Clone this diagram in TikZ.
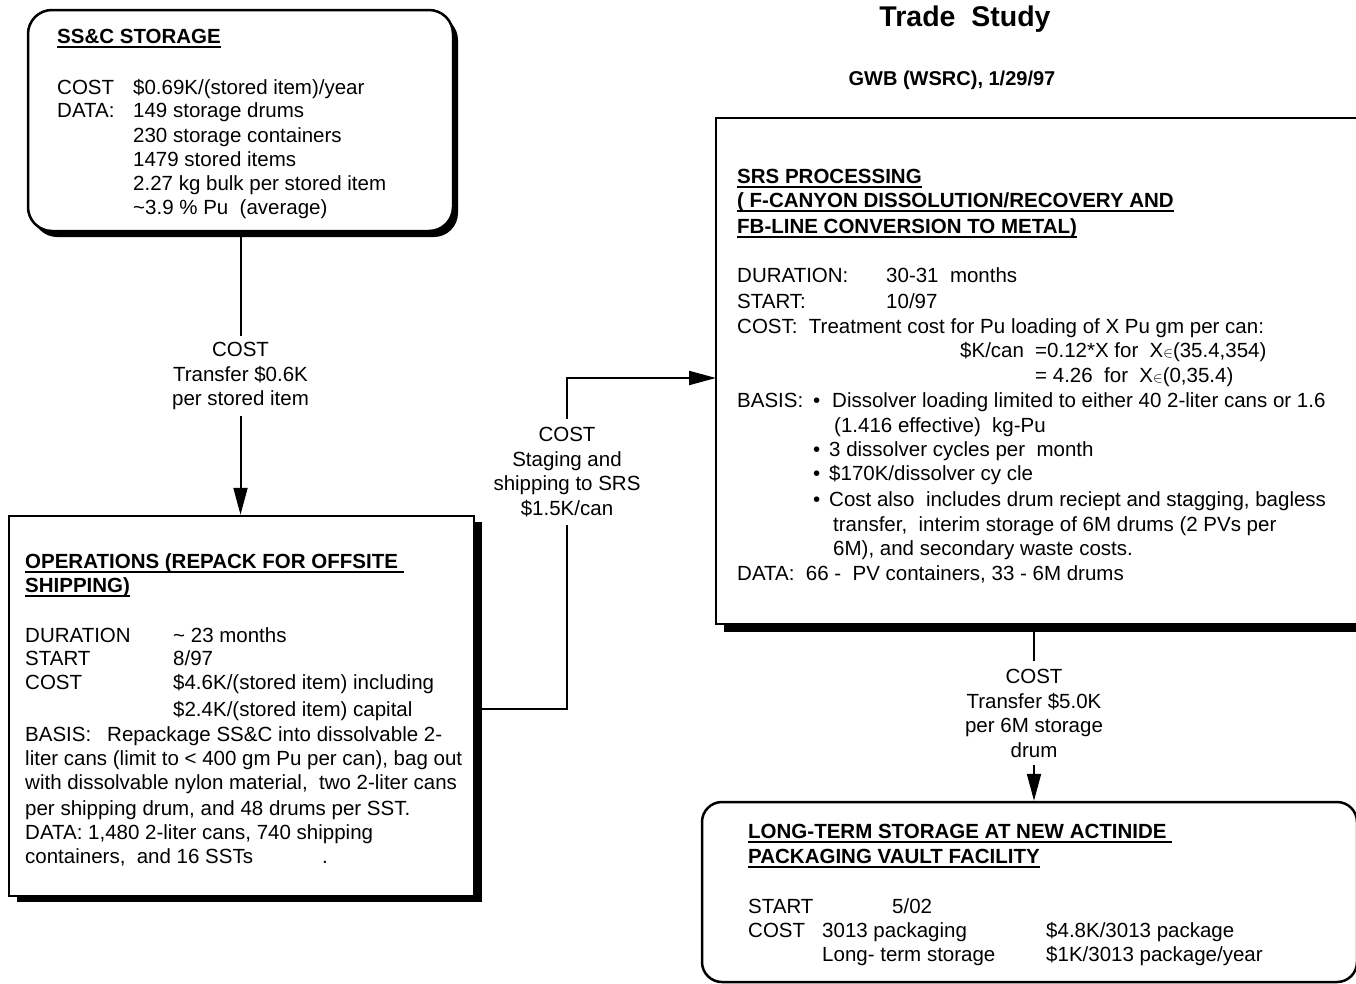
\documentclass[tikz,border=0pt]{standalone}
\usepackage{fontspec}
\setmainfont{Liberation Sans}
\usetikzlibrary{arrows.meta,shadows}
% underlined heading with a fixed rule under the baseline
\newcommand{\hdul}[1]{\setbox0\hbox{#1}\rlap{\rule[-4.5pt]{\wd0}{1.8pt}}\box0}
% small element-of sign used in the cost formula
\newcommand{\elem}{{\fontsize{15}{15}\selectfont$\in$}}
\tikzset{
  every node/.style={font=\fontsize{20.5}{24.5}\selectfont},
  boxline/.style={draw=black, line width=2.5pt, fill=white, inner sep=0pt},
  conn/.style={line width=2pt},
  arr/.style={conn, -{Triangle[length=27pt,width=14pt]}},
  txt/.style={anchor=base west, inner sep=0pt},
  lbl/.style={align=center, inner xsep=0pt, anchor=north},
}
\begin{document}
\begin{tikzpicture}[x=1pt,y=-1pt]
\useasboundingbox[fill=white] (0,0) rectangle (1356,983);

% ---- boxes ----
\node[boxline, rounded corners=24pt, minimum width=425pt, minimum height=221pt,
      drop shadow={shadow xshift=5pt,shadow yshift=-6pt,fill=black,opacity=1}]
      (ssc) at (240.5,120.5) {};
\node[boxline, minimum width=465pt, minimum height=380pt,
      drop shadow={shadow xshift=8pt,shadow yshift=-6pt,fill=black,opacity=1}]
      (ops) at (241.5,706) {};
\node[boxline, minimum width=641pt, minimum height=506pt,
      drop shadow={shadow xshift=8pt,shadow yshift=-8pt,fill=black,opacity=1}]
      (srs) at (1036.5,371) {};
\node[boxline, rounded corners=20pt, minimum width=655pt, minimum height=180pt]
      (lts) at (1029.5,892) {};

% ---- title ----
\node[anchor=base, inner sep=0pt, font=\fontsize{28.5}{32}\selectfont\bfseries] (title) at (965,26) {Trade\ \ Study};
\node[anchor=base, inner sep=0pt, font=\fontsize{20}{23}\selectfont\bfseries] (author) at (952,85) {GWB (WSRC), 1/29/97};

% ---- SS&C storage ----
\node[txt] (h1) at (57,43) {\bfseries\hdul{SS\&C STORAGE}};
\node[txt] (c1a) at (57,94) {COST};
\node[txt] (c1b) at (133,94) {\$0.69K/(stored item)/year};
\node[txt] (d1a) at (57,117) {DATA:};
\node[txt] (d1b) at (133,117) {149 storage drums};
\node[txt] (d1c) at (133,142) {230 storage containers};
\node[txt] (d1d) at (133,166) {1479 stored items};
\node[txt] (d1e) at (133,190) {2.27 kg bulk per stored item};
\node[txt] (d1f) at (133,214) {\textasciitilde3.9 \% Pu\ \ (average)};

% ---- operations ----
\node[txt] (h2a) at (25,568) {\bfseries\hdul{OPERATIONS (REPACK FOR OFFSITE\ }};
\node[txt] (h2b) at (25,592) {\bfseries\hdul{SHIPPING)}};
\node[txt] (o1a) at (25,642) {DURATION};
\node[txt] (o1b) at (173,642) {\textasciitilde\ 23 months};
\node[txt] (o2a) at (25,665) {START};
\node[txt] (o2b) at (173,665) {8/97};
\node[txt] (o3a) at (25,689) {COST};
\node[txt] (o3b) at (173,689) {\$4.6K/(stored item) including};
\node[txt] (o3c) at (173,716) {\$2.4K/(stored item) capital};
\node[txt] (o4a) at (25,741) {BASIS:};
\node[txt] (o4b) at (107,741) {Repackage SS\&C into dissolvable 2-};
\node[txt] (o5) at (25,765) {liter cans (limit to < 400 gm Pu per can), bag out};
\node[txt] (o6) at (25,789) {with dissolvable nylon material,\ \ two 2-liter cans};
\node[txt] (o7) at (25,815) {per shipping drum, and 48 drums per SST.};
\node[txt] (o8) at (25,839) {DATA: 1,480 2-liter cans, 740 shipping};
\node[txt] (o9a) at (25,863) {containers,\ \ and 16 SSTs};
\node[txt] (o9b) at (322,863) {.};

% ---- SRS processing ----
\node[txt] (h3a) at (737,183) {\bfseries\hdul{SRS PROCESSING}};
\node[txt] (h3b) at (737,207) {\bfseries\hdul{( F-CANYON DISSOLUTION/RECOVERY AND}};
\node[txt] (h3c) at (737,233) {\bfseries\hdul{FB-LINE CONVERSION TO METAL)}};
\node[txt] (s1a) at (737,282) {DURATION:};
\node[txt] (s1b) at (886,282) {30-31\ \ months};
\node[txt] (s2a) at (737,308) {START:};
\node[txt] (s2b) at (886,308) {10/97};
\node[txt] (s3) at (737,333) {COST:\ \ Treatment cost for Pu loading of X Pu gm per can:};
\node[txt] (s4a) at (960,357) {\$K/can};
\node[txt] (s4b) at (1035,357) {=0.12*X for\ \ X\elem(35.4,354)};
\node[txt] (s5) at (1035,382) {= 4.26\ \ for\ \ X\elem(0,35.4)};
\node[txt] (s6a) at (737,407) {BASIS:};
\node[txt] (s6b) at (813,407) {•};
\node[txt] (s6c) at (832,407) {Dissolver loading limited to either 40 2-liter cans or 1.6};
\node[txt] (s7) at (834,432) {(1.416 effective)\ \ kg-Pu};
\node[txt] (s8a) at (813,456) {•};
\node[txt] (s8b) at (829,456) {3 dissolver cycles per\ \ month};
\node[txt] (s9a) at (813,480) {•};
\node[txt] (s9b) at (829,480) {\$170K/dissolver cy cle};
\node[txt] (s10a) at (813,506) {•};
\node[txt] (s10b) at (829,506) {Cost also\ \ includes drum reciept and stagging, bagless};
\node[txt] (s11) at (833,531) {transfer,\ \ interim storage of 6M drums (2 PVs per};
\node[txt] (s12) at (833,555) {6M), and secondary waste costs.};
\node[txt] (s13) at (737,580) {DATA:\ \ 66 -\ \ PV containers, 33 - 6M drums};

% ---- long-term storage ----
\node[txt] (h4a) at (748,838) {\bfseries\hdul{LONG-TERM STORAGE AT NEW ACTINIDE\ }};
\node[txt] (h4b) at (748,863) {\bfseries\hdul{PACKAGING VAULT FACILITY}};
\node[txt] (l1a) at (748,913) {START};
\node[txt] (l1b) at (892,913) {5/02};
\node[txt] (l2a) at (748,937) {COST};
\node[txt] (l2b) at (822,937) {3013 packaging};
\node[txt] (l2c) at (1046,937) {\$4.8K/3013\ package};
\node[txt] (l3a) at (822,961) {Long- term storage};
\node[txt] (l3b) at (1046,961) {\$1K/3013 package/year};

% ---- connector labels ----
\node[lbl, inner ysep=6pt] (lbl1) at (240.5,336) {COST\\Transfer \$0.6K\\per stored item};
\node[lbl, inner ysep=8pt] (lbl2) at (567,419) {COST\\Staging and\\shipping to SRS\\\$1.5K/can};
\node[lbl, inner ysep=8pt] (lbl3) at (1034,661) {COST\\Transfer \$5.0K\\per 6M storage\\drum};
\coordinate (opsout) at (474,709);
\coordinate (srsin) at (716,378);

% ---- connectors ----
\draw[conn] (ssc.south) -- (lbl1.north);
\draw[arr] (lbl1.south) -- (lbl1.south |- ops.north);
\draw[conn] (opsout) -| (lbl2.south);
\draw[arr] (lbl2.north) |- (srsin);
\draw[conn] (lbl3.north |- srs.south) -- (lbl3.north);
\draw[arr] (lbl3.south) -- (lbl3.south |- lts.north);
\end{tikzpicture}
\end{document}
